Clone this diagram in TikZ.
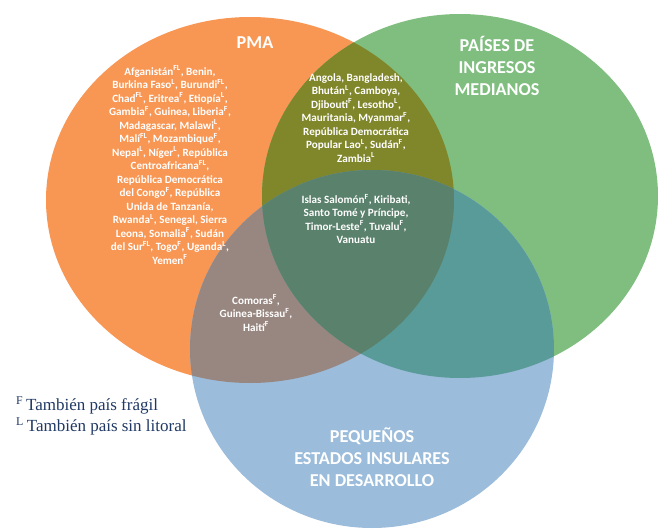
\documentclass[tikz,border=0pt]{standalone}
\usepackage{fontspec}
\setmainfont{Carlito}
\newfontfamily\legendfont{Liberation Serif}
\usetikzlibrary{positioning}

\definecolor{pmaorange}{RGB}{248,150,84}
\definecolor{pimgreen}{RGB}{127,190,127}
\definecolor{peidblue}{RGB}{155,188,218}
\definecolor{olivemix}{RGB}{128,134,42}
\definecolor{mauvemix}{RGB}{152,135,128}
\definecolor{tealmix}{RGB}{88,155,152}
\definecolor{darkmix}{RGB}{90,129,108}
\definecolor{legendnavy}{RGB}{31,56,100}

\newcommand{\fsup}{\textsuperscript{F}}
\newcommand{\lsup}{\textsuperscript{L}}
\newcommand{\flsup}{\textsuperscript{FL}}

\newcommand{\pmapath}{(250,200) ellipse [x radius=204, y radius=183]}
\newcommand{\pimpath}{(460,196) ellipse [x radius=198, y radius=182]}
\newcommand{\peidpath}{(372,349) ellipse [x radius=182, y radius=179]}

\tikzset{
  settitle/.style={text=white, align=center, font=\bfseries\fontsize{15.5}{18.8}\selectfont},
  countries/.style={text=white, align=center, font=\bfseries\fontsize{9.5}{11.5}\selectfont},
  legendtext/.style={text=legendnavy, align=left, font=\legendfont\fontsize{14.5}{18}\selectfont}
}

\begin{document}
\begin{tikzpicture}[x=0.03cm, y=-0.03cm]
    \useasboundingbox (0,0) rectangle (658,529);
    % sets
    \fill[pmaorange] \pmapath;
    \fill[pimgreen] \pimpath;
    \fill[peidblue] \peidpath;
    % overlaps
    \begin{scope}
      \clip \pmapath;
      \fill[olivemix] \pimpath;
    \end{scope}
    \begin{scope}
      \clip \pmapath;
      \fill[mauvemix] \peidpath;
    \end{scope}
    \begin{scope}
      \clip \pimpath;
      \fill[tealmix] \peidpath;
    \end{scope}
    \begin{scope}
      \clip \pmapath;
      \clip \pimpath;
      \fill[darkmix] \peidpath;
    \end{scope}

    % titles
    \node[settitle] (pma) at (255,43) {PMA};
    \node[settitle] (pim) at (497,66) {PAÍSES DE\\INGRESOS\\MEDIANOS};
    \node[settitle] (peid) at (372,457) {PEQUEÑOS\\ESTADOS INSULARES\\EN DESARROLLO};

    % country lists
    \node[countries] (onlypma) at (170,165) {Afganistán\flsup, Benin,\\
      Burkina Faso\lsup, Burundi\flsup,\\
      Chad\flsup, Eritrea\fsup, Etiopía\lsup,\\
      Gambia\fsup, Guinea, Liberia\fsup,\\
      Madagascar, Malawi\lsup,\\
      Malí\flsup, Mozambique\fsup,\\
      Nepal\lsup, Níger\lsup, República\\
      Centroafricana\flsup,\\
      República Democrática\\
      del Congo\fsup, República\\
      Unida de Tanzanía,\\
      Rwanda\lsup, Senegal, Sierra\\
      Leona, Somalia\fsup, Sudán\\
      del Sur\flsup, Togo\fsup, Uganda\lsup,\\
      Yemen\fsup};
    \node[countries] (pmapim) at (356,118) {Angola, Bangladesh,\\
      Bhután\lsup, Camboya,\\
      Djibouti\fsup, Lesotho\lsup,\\
      Mauritania, Myanmar\fsup,\\
      República Democrática\\
      Popular Lao\lsup, Sudán\fsup,\\
      Zambia\lsup};
    \node[countries] (allthree) at (356,219) {Islas Salomón\fsup, Kiribati,\\
      Santo Tomé y Príncipe,\\
      Timor-Leste\fsup, Tuvalu\fsup,\\
      Vanuatu};
    \node[countries] (pmapeid) at (256,313) {Comoras\fsup,\\
      Guinea-Bissau\fsup,\\
      Haití\fsup};

    % legend
    \node[legendtext, anchor=west] (legend) at (12,416) {\fsup\,También país frágil\\
      \lsup\,También país sin litoral};
\end{tikzpicture}
\end{document}
